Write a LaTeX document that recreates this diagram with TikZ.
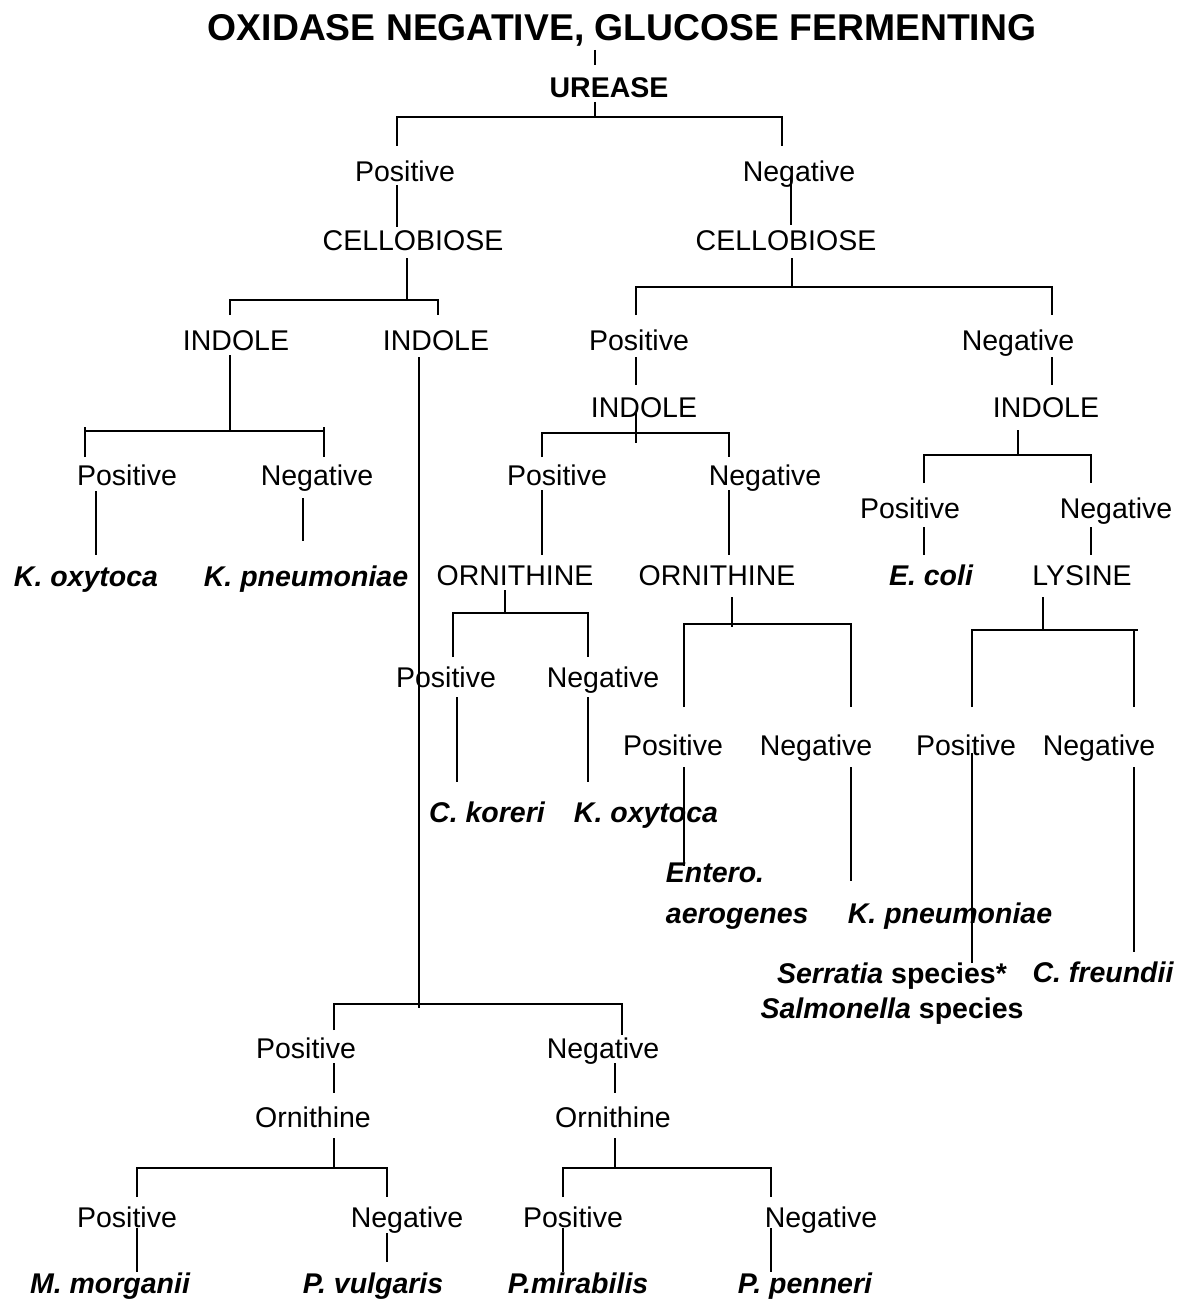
\documentclass[tikz,border=0pt]{standalone}
\usepackage{fontspec}
\setmainfont{Liberation Sans}
\tikzset{
  lbl/.style={anchor=base, inner sep=0pt, font=\fontsize{28.5}{34}\selectfont},
  test/.style={lbl, font=\fontsize{28.5}{34}\selectfont\bfseries},
  org/.style={lbl, font=\fontsize{28.5}{34}\selectfont\bfseries\itshape},
  heading/.style={lbl, font=\fontsize{37.3}{44}\selectfont\bfseries}
}
\begin{document}
\begin{tikzpicture}[x=1pt,y=-1pt,line width=1.8pt]
    \useasboundingbox (0,0) rectangle (1194,1300);
    \path
    % Title and first test
    (622,41)   node[heading] (title)  {OXIDASE NEGATIVE, GLUCOSE FERMENTING}
    (609,98)   node[test]    (urease) {UREASE}
    % Urease results
    (405,182)  node[lbl] (posU) {Positive}
    (799,182)  node[lbl] (negU) {Negative}
    (413,250)  node[lbl] (celL) {CELLOBIOSE}
    (786,250)  node[lbl] (celR) {CELLOBIOSE}

    % Urease positive branch
    (236,350)  node[lbl] (indA) {INDOLE}
    (436,350)  node[lbl] (indB) {INDOLE}
    (127,485)  node[lbl] (posA) {Positive}
    (317,485)  node[lbl] (negA) {Negative}
    (86,586)   node[org] (kox1) {K. oxytoca}
    (306,586)  node[org] (kpn1) {K. pneumoniae}
    (306,1058) node[lbl] (posI) {Positive}
    (603,1058) node[lbl] (negI) {Negative}
    (313,1127) node[lbl] (ornI) {Ornithine}
    (613,1127) node[lbl] (ornJ) {Ornithine}
    (127,1227) node[lbl] (posJ) {Positive}
    (407,1227) node[lbl] (negJ) {Negative}
    (573,1227) node[lbl] (posK) {Positive}
    (821,1227) node[lbl] (negK) {Negative}
    (110,1293) node[org] (mmor) {M. morganii}
    (373,1293) node[org] (pvul) {P. vulgaris}
    (578,1293) node[org] (pmir) {P.mirabilis}
    (805,1293) node[org] (ppen) {P. penneri}

    % Urease negative branch
    (639,350)  node[lbl] (posC) {Positive}
    (1018,350) node[lbl] (negC) {Negative}
    (644,417)  node[lbl] (indC) {INDOLE}
    (1046,417) node[lbl] (indD) {INDOLE}
    (557,485)  node[lbl] (posE) {Positive}
    (765,485)  node[lbl] (negE) {Negative}
    (910,518)  node[lbl] (posD) {Positive}
    (1116,518) node[lbl] (negD) {Negative}
    (515,585)  node[lbl] (ornE) {ORNITHINE}
    (717,585)  node[lbl] (ornF) {ORNITHINE}
    (931,585)  node[org] (ecoli) {E. coli}
    (1082,585) node[lbl] (lys) {LYSINE}
    (446,687)  node[lbl] (posF) {Positive}
    (603,687)  node[lbl] (negF) {Negative}
    (673,755)  node[lbl] (posG) {Positive}
    (816,755)  node[lbl] (negG) {Negative}
    (966,755)  node[lbl] (posH) {Positive}
    (1099,755) node[lbl] (negH) {Negative}
    (487,822)  node[org] (ckor) {C. koreri}
    (646,822)  node[org] (kox2) {K. oxytoca}
    (665,862)  node[org,anchor=north west,align=left,
                    font=\fontsize{28.5}{41}\selectfont\bfseries\itshape] (entero) {Entero.\\aerogenes}
    (950,923)  node[org] (kpn2) {K. pneumoniae}
    (892,962)  node[org,anchor=north,align=center,
                    font=\fontsize{28.5}{35}\selectfont\bfseries] (serr)
                    {\textit{Serratia} species*\\\textit{Salmonella} species}
    (1103,982) node[org] (cfr) {C. freundii};

    % Line ends and fork points
    \path
    (595,50)   coordinate (title-b)  (595,65)   coordinate (urease-t)
    (595,102)  coordinate (urease-b) (595,117)  coordinate (urease-f)
    (397,146)  coordinate (posU-t)   (782,146)  coordinate (negU-t)
    (397,185)  coordinate (posU-b)   (397,227)  coordinate (celL-t)
    (791,178)  coordinate (negU-b)   (791,225)  coordinate (celR-t)
    (407,258)  coordinate (celL-b)   (407,300)  coordinate (celL-f)
    (230,315)  coordinate (indA-t)   (438,315)  coordinate (indB-t)
    (230,355)  coordinate (indA-b)   (230,431)  coordinate (indA-f)
    (85,457)   coordinate (posA-t)   (324,457)  coordinate (negA-t)
    (96,491)   coordinate (posA-b)   (96,555)   coordinate (kox1-t)
    (303,498)  coordinate (negA-b)   (303,541)  coordinate (kpn1-t)
    (419,357)  coordinate (indB-b)   (419,1004) coordinate (indB-f)
    (334,1030) coordinate (posI-t)   (622,1035) coordinate (negI-t)
    (334,1063) coordinate (posI-b)   (334,1093) coordinate (ornI-t)
    (615,1063) coordinate (negI-b)   (615,1093) coordinate (ornJ-t)
    (334,1138) coordinate (ornI-b)   (334,1168) coordinate (ornI-f)
    (137,1197) coordinate (posJ-t)   (387,1197) coordinate (negJ-t)
    (615,1138) coordinate (ornJ-b)   (615,1168) coordinate (ornJ-f)
    (563,1197) coordinate (posK-t)   (771,1197) coordinate (negK-t)
    (137,1228) coordinate (posJ-b)   (137,1272) coordinate (mmor-t)
    (387,1233) coordinate (negJ-b)   (387,1262) coordinate (pvul-t)
    (563,1228) coordinate (posK-b)   (563,1272) coordinate (pmir-t)
    (771,1228) coordinate (negK-b)   (771,1272) coordinate (ppen-t)
    (792,258)  coordinate (celR-b)   (792,287)  coordinate (celR-f)
    (636,315)  coordinate (posC-t)   (1052,315) coordinate (negC-t)
    (636,357)  coordinate (posC-b)   (636,385)  coordinate (indC-t)
    (1052,357) coordinate (negC-b)   (1052,385) coordinate (indD-t)
    (636,413)  coordinate (indC-b)   (636,433)  coordinate (indC-f)
    (542,457)  coordinate (posE-t)   (729,457)  coordinate (negE-t)
    (542,490)  coordinate (posE-b)   (542,555)  coordinate (ornE-t)
    (729,490)  coordinate (negE-b)   (729,555)  coordinate (ornF-t)
    (1018,430) coordinate (indD-b)   (1018,455) coordinate (indD-f)
    (924,483)  coordinate (posD-t)   (1091,483) coordinate (negD-t)
    (924,527)  coordinate (posD-b)   (924,555)  coordinate (ecoli-t)
    (1091,527) coordinate (negD-b)   (1091,555) coordinate (lys-t)
    (505,590)  coordinate (ornE-b)   (505,613)  coordinate (ornE-f)
    (453,657)  coordinate (posF-t)   (588,657)  coordinate (negF-t)
    (457,697)  coordinate (posF-b)   (457,782)  coordinate (ckor-t)
    (588,697)  coordinate (negF-b)   (588,782)  coordinate (kox2-t)
    (732,597)  coordinate (ornF-b)   (732,624)  coordinate (ornF-f)
    (684,707)  coordinate (posG-t)   (851,707)  coordinate (negG-t)
    (684,767)  coordinate (posG-b)   (684,866)  coordinate (entero-t)
    (851,767)  coordinate (negG-b)   (851,881)  coordinate (kpn2-t)
    (1043,597) coordinate (lys-b)    (1043,630) coordinate (lys-f)
    (972,707)  coordinate (posH-t)   (1134,707) coordinate (negH-t)
    (972,753)  coordinate (posH-b)   (972,963)  coordinate (serr-t)
    (1134,767) coordinate (negH-b)   (1134,952) coordinate (cfr-t);

    % Stems from each test
    \draw (title-b)--(urease-t);
    \draw (urease-b)--(urease-f);
    \draw (celL-b)--(celL-f);
    \draw (celR-b)--(celR-f);
    \draw (indA-b)--(indA-f);
    \draw (indB-b)--([yshift=-4pt]indB-f);
    \draw (indC-b)--([yshift=-10pt]indC-f);
    \draw (indD-b)--(indD-f);
    \draw (ornE-b)--(ornE-f);
    \draw (ornF-b)--([yshift=-3pt]ornF-f);
    \draw (lys-b)--(lys-f);
    \draw (ornI-b)--(ornI-f);
    \draw (ornJ-b)--(ornJ-f);

    % Forks to the two results
    \draw (posU-t) |- (urease-f) -| (negU-t);
    \draw (indA-t) |- (celL-f) -| (indB-t);
    \draw ([yshift=4pt]posA-t |- indA-f) -- (posA-t);
    \draw ([yshift=4pt]negA-t |- indA-f) -- (negA-t);
    \draw (posA-t) |- (indA-f) -| (negA-t);
    \draw (posI-t) |- (indB-f) -| (negI-t);
    \draw (posJ-t) |- (ornI-f) -| (negJ-t);
    \draw (posK-t) |- (ornJ-f) -| (negK-t);
    \draw (posC-t) |- (celR-f) -| (negC-t);
    \draw (posE-t) |- (indC-f) -| (negE-t);
    \draw (posD-t) |- (indD-f) -| (negD-t);
    \draw (posF-t) |- (ornE-f) -| (negF-t);
    \draw (posG-t) |- (ornF-f) -| (negG-t);
    \draw (posH-t) |- (lys-f) -| ([xshift=4pt]negH-t |- lys-f);
    \draw (negH-t) -- (negH-t |- lys-f);

    % Result to next test or organism
    \draw (posU-b)--(celL-t);
    \draw (negU-b)--(celR-t);
    \draw (posA-b)--(kox1-t);
    \draw (negA-b)--(kpn1-t);
    \draw (posI-b)--(ornI-t);
    \draw (negI-b)--(ornJ-t);
    \draw (posJ-b)--(mmor-t);
    \draw (negJ-b)--(pvul-t);
    \draw (posK-b)--(pmir-t);
    \draw (negK-b)--(ppen-t);
    \draw (posC-b)--(indC-t);
    \draw (negC-b)--(indD-t);
    \draw (posE-b)--(ornE-t);
    \draw (negE-b)--(ornF-t);
    \draw (posD-b)--(ecoli-t);
    \draw (negD-b)--(lys-t);
    \draw (posF-b)--(ckor-t);
    \draw (negF-b)--(kox2-t);
    \draw (posG-b)--(entero-t);
    \draw (negG-b)--(kpn2-t);
    \draw (posH-b)--(serr-t);
    \draw (negH-b)--(cfr-t);
\end{tikzpicture}
\end{document}
